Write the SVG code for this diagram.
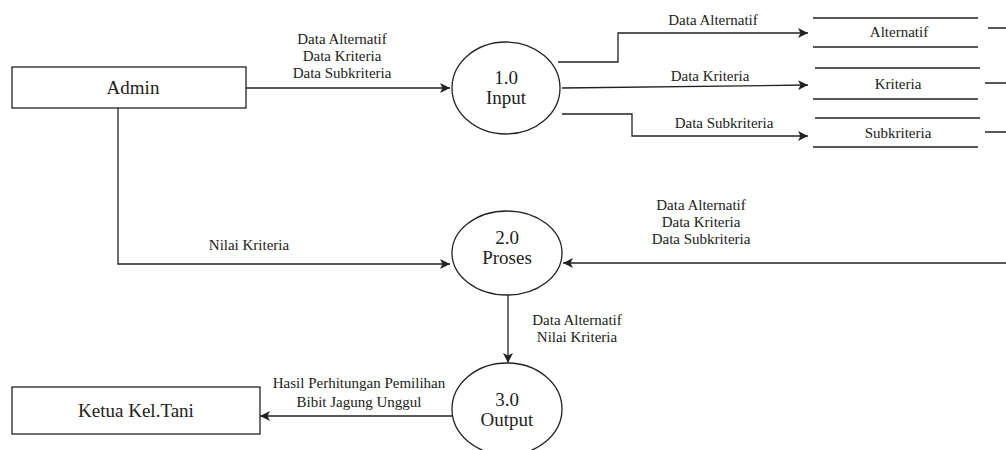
<svg xmlns="http://www.w3.org/2000/svg" width="1006" height="450" viewBox="0 0 1006 450">
<style>
.shape{fill:#fff;stroke:#222;stroke-width:1.3}
.line{fill:none;stroke:#222;stroke-width:1.3}
.big{font-family:'Liberation Serif','Tinos','DejaVu Serif','Times New Roman',serif;font-size:19px;fill:#222;text-anchor:middle}
.lbl{font-family:'Liberation Serif','Tinos','DejaVu Serif','Times New Roman',serif;font-size:15px;fill:#222;text-anchor:middle}
</style>
<defs>
<marker id="arr" viewBox="0 0 10 10" refX="10" refY="5" markerWidth="10" markerHeight="10" markerUnits="userSpaceOnUse" orient="auto">
<path d="M0,0 L10,5 L0,10 L2.5,5 Z" fill="#222"/>
</marker>
</defs>
<rect width="1006" height="450" fill="#fff"/>
<g id="connectors">
<path class="line" d="M246,88 H450" marker-end="url(#arr)"/>
<path class="line" d="M558,62 H618 V33 H808" marker-end="url(#arr)"/>
<path class="line" d="M562,88 L808,85" marker-end="url(#arr)"/>
<path class="line" d="M562,114 H632 V136 H808" marker-end="url(#arr)"/>
<path class="line" d="M118,107 V264 H450" marker-end="url(#arr)"/>
<path class="line" d="M1006,263 H563" marker-end="url(#arr)"/>
<path class="line" d="M508,295 V363" marker-end="url(#arr)"/>
<path class="line" d="M452,416 H260" marker-end="url(#arr)"/>
<path class="line" d="M988,28 H1006 M985,83 H1006 M985,132 H1006"/>
<text class="lbl" x="342" y="43.5">Data Alternatif</text>
<text class="lbl" x="342" y="60.5">Data Kriteria</text>
<text class="lbl" x="342" y="77.5">Data Subkriteria</text>
<text class="lbl" x="713" y="25">Data Alternatif</text>
<text class="lbl" x="710" y="81">Data Kriteria</text>
<text class="lbl" x="724" y="128">Data Subkriteria</text>
<text class="lbl" x="249" y="250">Nilai Kriteria</text>
<text class="lbl" x="701" y="210">Data Alternatif</text>
<text class="lbl" x="701" y="227">Data Kriteria</text>
<text class="lbl" x="701" y="244">Data Subkriteria</text>
<text class="lbl" x="577" y="325">Data Alternatif</text>
<text class="lbl" x="577" y="342">Nilai Kriteria</text>
<text class="lbl" x="359" y="388">Hasil Perhitungan Pemilihan</text>
<text class="lbl" x="359" y="407">Bibit Jagung Unggul</text>
</g>
<g id="admin">
<rect class="shape" x="12" y="67" width="234" height="41"/>
<text class="big" x="133" y="94">Admin</text>
</g>
<g id="ketua">
<rect class="shape" x="12" y="387" width="248" height="47"/>
<text class="big" x="136" y="417">Ketua Kel.Tani</text>
</g>
<g id="p1">
<ellipse class="shape" cx="506" cy="88" rx="54" ry="46"/>
<text class="big" x="506" y="84">1.0</text>
<text class="big" x="506" y="104">Input</text>
</g>
<g id="p2">
<ellipse class="shape" cx="507" cy="253" rx="55" ry="42"/>
<text class="big" x="507" y="244">2.0</text>
<text class="big" x="507" y="264">Proses</text>
</g>
<g id="p3">
<ellipse class="shape" cx="507" cy="409" rx="55" ry="46"/>
<text class="big" x="507" y="406">3.0</text>
<text class="big" x="507" y="426">Output</text>
</g>
<g id="ds-alternatif">
<path class="line" d="M813,18 H978 M813,47 H978"/>
<text class="lbl" x="899" y="37">Alternatif</text>
</g>
<g id="ds-kriteria">
<path class="line" d="M815,68 H980 M813,99 H978"/>
<text class="lbl" x="898" y="89">Kriteria</text>
</g>
<g id="ds-subkriteria">
<path class="line" d="M815,118 H980 M813,147 H978"/>
<text class="lbl" x="898" y="138">Subkriteria</text>
</g>
</svg>
